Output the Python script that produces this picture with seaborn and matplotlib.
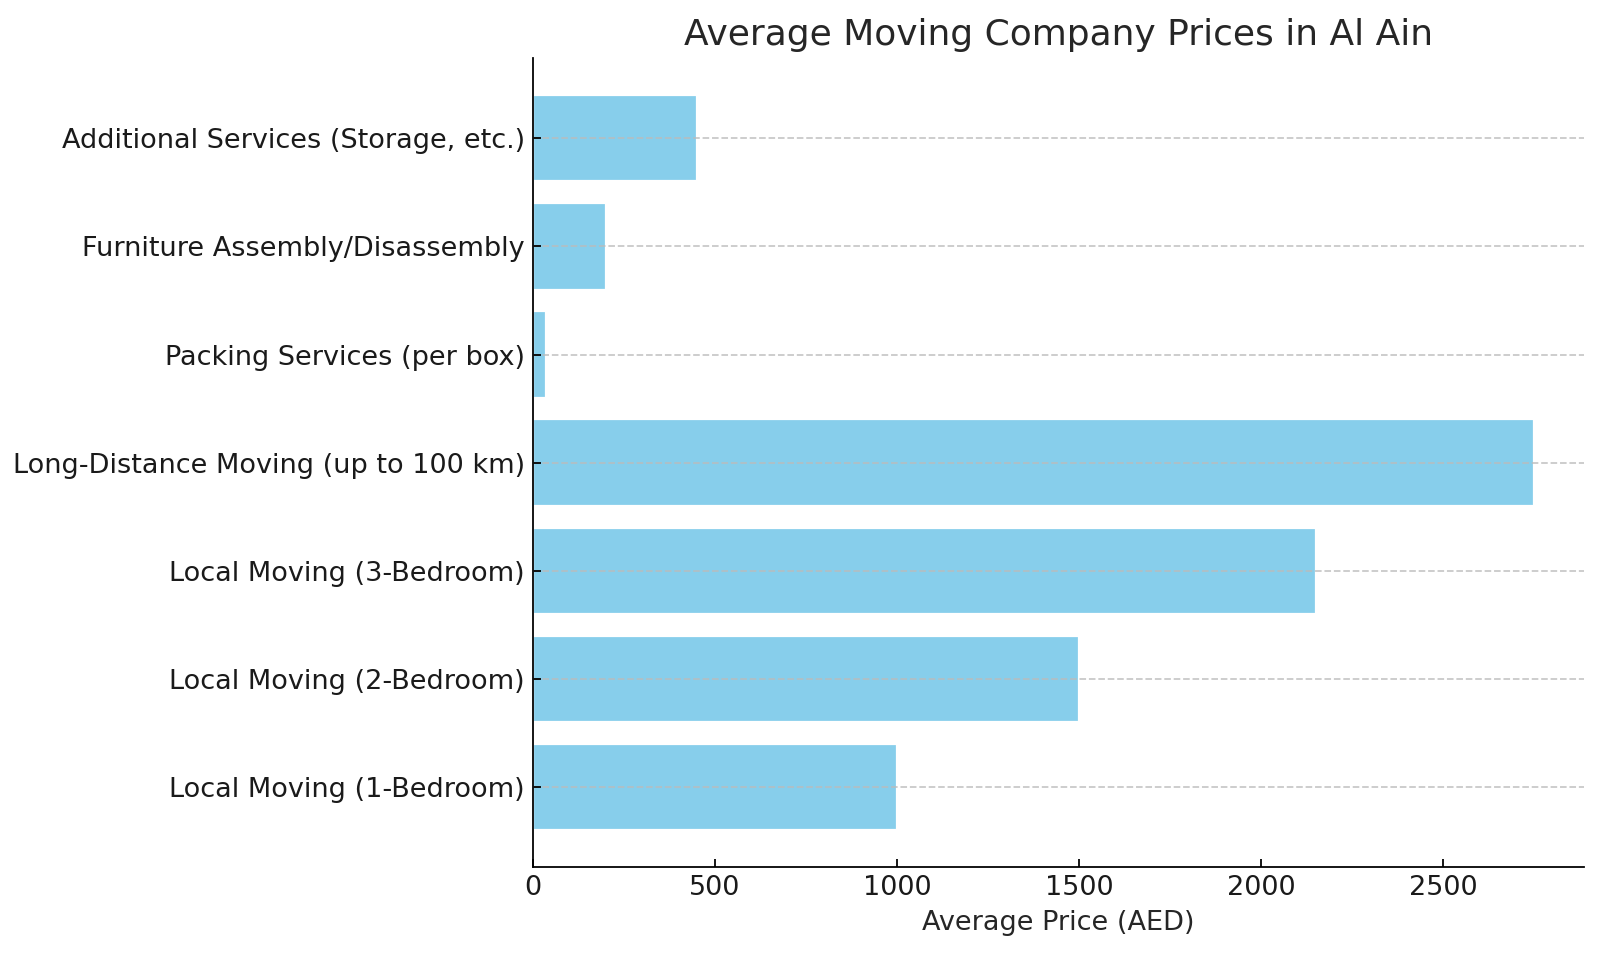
import matplotlib
matplotlib.use("Agg")
import matplotlib.pyplot as plt
import seaborn as sns
import pandas as pd

# services listed bottom-to-top as in the reference
services = [
    "Local Moving (1-Bedroom)",
    "Local Moving (2-Bedroom)",
    "Local Moving (3-Bedroom)",
    "Long-Distance Moving (up to 100 km)",
    "Packing Services (per box)",
    "Furniture Assembly/Disassembly",
    "Additional Services (Storage, etc.)",
]
prices = [1000, 1500, 2150, 2750, 35, 200, 450]

df = pd.DataFrame({"Service": services, "Price": prices})

sns.set_style("ticks")
plt.rcParams["font.family"] = ["DejaVu Sans"]

fig, ax = plt.subplots(figsize=(10, 5.9625), dpi=160)
sns.barplot(data=df, x="Price", y="Service", order=services[::-1],
            color="skyblue", saturation=1, errorbar=None, width=0.8, ax=ax)

ax.set_ylim(len(services) - 1 + 0.74, -0.74)
ax.set_xlim(0, max(prices) * 1.05)
ax.set_title("Average Moving Company Prices in Al Ain", fontsize=16.2, color="#262626")
ax.set_xlabel("Average Price (AED)", fontsize=12.2, color="#262626")
ax.set_ylabel("")
ax.tick_params(axis="both", labelsize=12.2, direction="in", colors="black", labelcolor="#1a1a1a")
# grid drawn over the bars, as in the reference
ax.set_axisbelow(False)
ax.yaxis.grid(True, linestyle="--", color="#bbbbbb", alpha=0.8)
sns.despine(ax=ax)
for s in ["left", "bottom"]:
    ax.spines[s].set_color("black")

fig.subplots_adjust(left=0.333, right=0.990, top=0.939, bottom=0.091)
fig.savefig("out.png", dpi=160)
